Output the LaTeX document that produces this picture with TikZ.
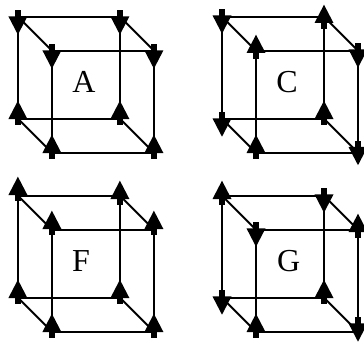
\documentclass[tikz,border=0pt]{standalone}
\usepackage{fontspec}
\setmainfont{Liberation Serif}
\newcommand{\cubeframe}[3]{%
  \coordinate (#1bt) at (#2,#3);
  \coordinate (#1ct) at (#2+102,#3);
  \coordinate (#1bb) at (#2,#3+102);
  \coordinate (#1cb) at (#2+102,#3+102);
  \coordinate (#1ft) at (#2+34,#3+34);
  \coordinate (#1gt) at (#2+136,#3+34);
  \coordinate (#1fb) at (#2+34,#3+136);
  \coordinate (#1gb) at (#2+136,#3+136);
  \draw[edge] (#1bt) -- (#1ct) -- (#1cb) -- (#1bb) -- cycle;
  \draw[edge] (#1ft) -- (#1gt) -- (#1gb) -- (#1fb) -- cycle;
  \draw[edge] (#1bt) -- (#1ft) (#1ct) -- (#1gt) (#1bb) -- (#1fb) (#1cb) -- (#1gb);
}
\tikzset{
  x=1pt, y=-1pt,
  edge/.style={line width=1.9pt, black},
  letter/.style={font=\fontsize{32}{32}\selectfont, inner sep=0pt, text=black},
  pics/upspin/.style={code={
    \fill[black] (-9.5,#1+0.3) -- (0,#1-18) -- (9.5,#1+0.3) -- cycle;
    \fill[black] (-3.2,#1-1) rectangle (3.2,#1+6.5);}},
  pics/downspin/.style={code={
    \fill[black] (-9.5,#1-0.3) -- (0,#1+18) -- (9.5,#1-0.3) -- cycle;
    \fill[black] (-3.2,#1+1) rectangle (3.2,#1-6.5);}}
}
\begin{document}
\begin{tikzpicture}
\useasboundingbox (0,0) rectangle (364,345);
\clip (0,0) rectangle (364,345);
% Cube A
\cubeframe{a}{17.9}{16.7}
\pic at (abt) {downspin=0};
\pic at (act) {downspin=0};
\pic at (aft) {downspin=0};
\pic at (agt) {downspin=0};
\pic at (abb) {upspin=0};
\pic at (acb) {upspin=0};
\pic at (afb) {upspin=0};
\pic at (agb) {upspin=0};
\node[letter] (la) at (84,82) {A};
% Cube C
\cubeframe{c}{222}{16.7}
\pic at (cbt) {downspin=-1};
\pic at (cct) {upspin=6};
\pic at (cft) {upspin=2};
\pic at (cgt) {downspin=-1};
\pic at (cbb) {downspin=0};
\pic at (ccb) {upspin=0};
\pic at (cfb) {upspin=0};
\pic at (cgb) {downspin=-5.5};
\node[letter] (lc) at (287,82) {C};
% Cube F
\cubeframe{f}{17.9}{195.7}
\pic at (fbt) {upspin=-1};
\pic at (fct) {upspin=3};
\pic at (fft) {upspin=-1};
\pic at (fgt) {upspin=-1};
\pic at (fbb) {upspin=0};
\pic at (fcb) {upspin=0};
\pic at (ffb) {upspin=0};
\pic at (fgb) {upspin=0};
\node[letter] (lf) at (81,261) {F};
% Cube G
\cubeframe{g}{222}{195.7}
\pic at (gbt) {upspin=3};
\pic at (gct) {downspin=-1};
\pic at (gft) {downspin=-1};
\pic at (ggt) {upspin=2};
\pic at (gbb) {downspin=-1};
\pic at (gcb) {upspin=0};
\pic at (gfb) {upspin=0};
\pic at (ggb) {downspin=-8};
\node[letter] (lg) at (288.7,261) {G};
\end{tikzpicture}
\end{document}
